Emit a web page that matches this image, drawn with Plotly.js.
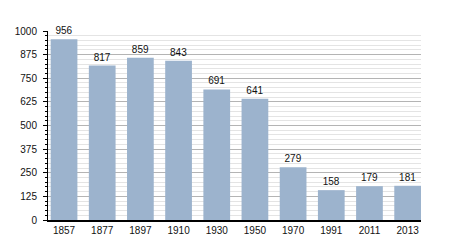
<!DOCTYPE html>
<html><head><meta charset="utf-8">
<script src="https://cdn.plot.ly/plotly-3.0.1.min.js"></script>
<style>html,body{margin:0;padding:0;background:#fff}</style>
</head><body>
<div id="chart" style="width:450px;height:250px"></div>
<script>
const years = ["1857","1877","1897","1910","1930","1950","1970","1991","2011","2013"];
const population = [956,817,859,843,691,641,279,158,179,181];
const yTicks = [0,125,250,375,500,625,750,875,1000];

Plotly.newPlot('chart', [{
  type: 'bar',
  x: years,
  y: population,
  text: population.map(String),
  textposition: 'outside',
  cliponaxis: false,
  textfont: {family: 'Liberation Sans, Arial, sans-serif', size: 10, color: '#111'},
  marker: {color: '#9cb3cd', line: {width: 0}},
  hoverinfo: 'none'
}], {
  width: 450, height: 250,
  margin: {l: 48, r: 29, t: 31, b: 30},
  paper_bgcolor: '#fff', plot_bgcolor: '#fff',
  bargap: 0.3,
  showlegend: false,
  font: {family: 'Liberation Sans, Arial, sans-serif', size: 10, color: '#111'},
  xaxis: {
    type: 'category', range: [-0.42, 9.35],
    showline: true, linecolor: '#000', linewidth: 1.5,
    ticks: '', showgrid: false, zeroline: false,
    tickfont: {size: 10}
  },
  yaxis: {
    range: [0, 1000], tickvals: yTicks, ticktext: yTicks.map(String),
    showline: true, linecolor: '#000', linewidth: 1,
    ticks: 'outside', ticklen: 4, tickcolor: '#000',
    ticklabelstandoff: 4,
    showgrid: true, gridcolor: '#b4b4b4', gridwidth: 1,
    zeroline: false, tickfont: {size: 10},
    minor: {dtick: 25, tick0: 0, showgrid: true, gridcolor: '#e4e4e4', gridwidth: 1, ticks: 'outside', ticklen: 2, tickcolor: '#000'}
  }
}, {staticPlot: true, displayModeBar: false});
</script>
</body></html>
